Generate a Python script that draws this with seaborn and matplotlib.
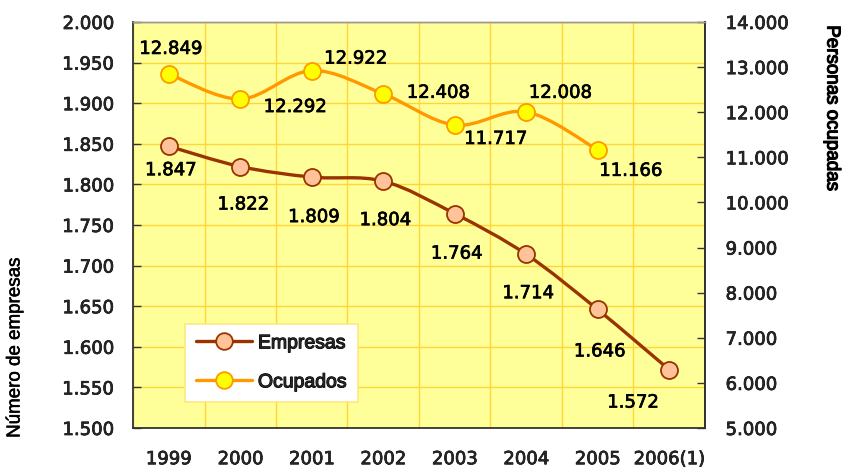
import numpy as np
import pandas as pd
import matplotlib
matplotlib.use("Agg")
import matplotlib.pyplot as plt
import matplotlib.patheffects as pe
from matplotlib.path import Path
from matplotlib.patches import PathPatch
from matplotlib.lines import Line2D
from matplotlib.ticker import FuncFormatter, MultipleLocator
import seaborn as sns

# ---------------------------------------------------------------------------
# Data
# ---------------------------------------------------------------------------
years = ["1999", "2000", "2001", "2002", "2003", "2004", "2005", "2006(1)"]
empresas = [1847, 1822, 1809, 1804, 1764, 1714, 1646, 1572]
ocupados = [12849, 12292, 12922, 12408, 11717, 12008, 11166]

# label offsets in pixels (dx, dy downwards)
emp_offsets = [(2, 24), (3, 38), (2, 40), (2, 39), (2, 40), (2, 39), (2, 42), (-36, 33)]
ocu_offsets = [(2, -25), (55, 8), (44, -12), (55, -1), (41, 14), (34, -19), (33, 21)]

BG = "#FFFF99"
GRID = "#FFD633"
EMP_LINE = "#993300"
EMP_FACE = "#FFC299"
OCU_LINE = "#FF9900"
OCU_FACE = "#FFFF00"
NUM_FONT = "DejaVu Sans"
TXT_FONT = "Liberation Sans"

# slightly heavier text, like the medium weight of the original
THICK = [pe.withStroke(linewidth=0.5, foreground="black")]


def thousands(v, pos=None):
    return f"{v:,.0f}".replace(",", ".")


def smooth_path(xs, ys):
    """Catmull-Rom style bezier through the points (like Excel smoothed lines)."""
    pts = np.column_stack([xs, ys]).astype(float)
    n = len(pts)
    verts = [pts[0]]
    codes = [Path.MOVETO]
    for i in range(n - 1):
        p0 = pts[max(i - 1, 0)]
        p1 = pts[i]
        p2 = pts[i + 1]
        p3 = pts[min(i + 2, n - 1)]
        verts += [p1 + (p2 - p0) / 6, p2 - (p3 - p1) / 6, p2]
        codes += [Path.CURVE4] * 3
    return Path(verts, codes)


sns.set_style("white")
plt.rcParams["font.family"] = [NUM_FONT]

df_emp = pd.DataFrame({"x": np.arange(len(years)), "v": empresas})
df_ocu = pd.DataFrame({"x": np.arange(len(ocupados)), "v": ocupados})

fig = plt.figure(figsize=(8.42, 4.68), dpi=100)
ax = fig.add_axes([0.158, 0.0855, 0.679, 0.8675])
ax2 = ax.twinx()

ax.set_facecolor(BG)
ax.set_zorder(1)
ax2.set_zorder(2)

# lines
ax.add_patch(PathPatch(smooth_path(df_emp["x"], df_emp["v"]), fill=False,
                       edgecolor=EMP_LINE, lw=2.4, zorder=3, capstyle="round"))
ax2.add_patch(PathPatch(smooth_path(df_ocu["x"], df_ocu["v"]), fill=False,
                        edgecolor=OCU_LINE, lw=2.4, zorder=3, capstyle="round"))

# markers
sns.scatterplot(data=df_emp, x="x", y="v", ax=ax, s=150, color=EMP_FACE,
                edgecolor=EMP_LINE, linewidth=1.3, zorder=4, legend=False)
sns.scatterplot(data=df_ocu, x="x", y="v", ax=ax2, s=150, color=OCU_FACE,
                edgecolor=OCU_LINE, linewidth=1.3, zorder=4, legend=False)

# data labels
for x, v, (dx, dy) in zip(df_emp["x"], df_emp["v"], emp_offsets):
    ax.annotate(thousands(v), (x, v), xytext=(dx * 0.72, -dy * 0.72),
                textcoords="offset points", ha="center", va="center",
                fontsize=13, color="black", zorder=5, path_effects=THICK)
for x, v, (dx, dy) in zip(df_ocu["x"], df_ocu["v"], ocu_offsets):
    ax2.annotate(thousands(v), (x, v), xytext=(dx * 0.72, -dy * 0.72),
                 textcoords="offset points", ha="center", va="center",
                 fontsize=13, color="black", zorder=5, path_effects=THICK)

# axes limits / ticks
ax.set_xlim(-0.5, len(years) - 0.5)
ax.set_ylim(1500, 2000)
ax2.set_ylim(5000, 14000)

ax.yaxis.set_major_locator(MultipleLocator(50))
ax.yaxis.set_major_formatter(FuncFormatter(thousands))
ax2.yaxis.set_major_locator(MultipleLocator(1000))
ax2.yaxis.set_major_formatter(FuncFormatter(thousands))

ax.set_xticks(np.arange(len(years)))
ax.set_xticklabels(years)
ax.set_xticks(np.arange(len(years) + 1) - 0.5, minor=True)

ax.tick_params(axis="x", which="major", length=0, pad=16, labelsize=13)
ax.tick_params(axis="x", which="minor", direction="in", length=6, width=1, color="#333333")
ax.tick_params(axis="y", which="major", direction="in", length=6, width=1,
               color="#333333", pad=14, labelsize=13, left=True)
ax2.tick_params(axis="y", which="major", direction="in", length=6, width=1,
                color="#333333", pad=15, labelsize=13, right=True)

for lbl in ax.get_xticklabels() + ax.get_yticklabels() + ax2.get_yticklabels():
    lbl.set_path_effects(THICK)

ax.grid(False)
ax2.grid(False)
ax.grid(axis="y", which="major", color=GRID, lw=1)
ax.grid(axis="x", which="minor", color=GRID, lw=1)
ax.set_axisbelow(True)

for a in (ax, ax2):
    for side in ("left", "bottom", "right"):
        a.spines[side].set_color("#333333")
        a.spines[side].set_linewidth(1.3)
    a.spines["top"].set_color("#999999")
    a.spines["top"].set_linewidth(1)
ax2.spines["left"].set_visible(False)
ax2.spines["bottom"].set_visible(False)

ax.set_xlabel("")
ax.set_ylabel("")
ax2.set_ylabel("")

# axis titles
fig.text(15 / 842, 1 - 348 / 468, "Número de empresas", rotation=90,
         ha="center", va="center", fontsize=13.5, family=TXT_FONT, color="black",
         path_effects=[pe.withStroke(linewidth=0.4, foreground="black")])
fig.text(832 / 842, 1 - 108 / 468, "Personas ocupadas", rotation=-90,
         ha="center", va="center", fontsize=13.5, family=TXT_FONT, color="black",
         path_effects=[pe.withStroke(linewidth=0.9, foreground="black")])

# legend
handles = [
    Line2D([], [], color=EMP_LINE, lw=2.4, marker="o", markersize=12,
           markerfacecolor=EMP_FACE, markeredgecolor=EMP_LINE, markeredgewidth=1.3),
    Line2D([], [], color=OCU_LINE, lw=2.4, marker="o", markersize=12,
           markerfacecolor=OCU_FACE, markeredgecolor=OCU_LINE, markeredgewidth=1.3),
]
leg = ax2.legend(handles, ["Empresas", "Ocupados"], loc="lower left",
                 bbox_to_anchor=((185 - 133) / 572, (428 - 402) / 406),
                 frameon=True, fancybox=False, handlelength=2.9, handletextpad=0.3,
                 labelspacing=1.1, borderpad=0.55, borderaxespad=0,
                 prop={"family": TXT_FONT, "size": 14})
for t in leg.get_texts():
    t.set_path_effects([pe.withStroke(linewidth=0.8, foreground="black")])
leg.get_frame().set_edgecolor("#FFE680")
leg.get_frame().set_facecolor("white")
leg.get_frame().set_alpha(1)
leg.get_frame().set_linewidth(1.2)

fig.savefig("out.png", dpi=100)
